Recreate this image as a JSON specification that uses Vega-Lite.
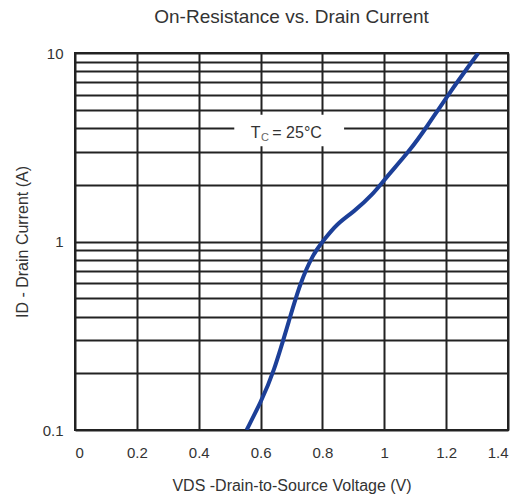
{
  "$schema": "https://vega.github.io/schema/vega-lite/v6.json",
  "width": 433,
  "height": 377,
  "autosize": "none",
  "padding": {"left": 75, "top": 53, "right": 15, "bottom": 66},
  "background": "white",
  "config": {
    "font": "Liberation Sans",
    "view": {"stroke": "#222", "strokeWidth": 2},
    "axis": {
      "domain": false,
      "ticks": false,
      "grid": true,
      "gridColor": "#222",
      "gridWidth": 2,
      "gridOpacity": 1,
      "labelFont": "Liberation Sans",
      "labelFontSize": 15,
      "labelColor": "#333",
      "titleFont": "Liberation Sans",
      "titleFontSize": 16,
      "titleFontWeight": "normal",
      "titleColor": "#333"
    }
  },
  "title": {
    "text": "On-Resistance vs. Drain Current",
    "font": "Liberation Sans",
    "fontSize": 19,
    "fontWeight": "normal",
    "color": "#333",
    "offset": 19
  },
  "layer": [
    {
      "data": {"values": [
        {"vds": 0.555, "id": 0.1},
        {"vds": 0.6, "id": 0.14},
        {"vds": 0.641, "id": 0.198},
        {"vds": 0.695, "id": 0.395},
        {"vds": 0.727, "id": 0.596},
        {"vds": 0.77, "id": 0.86},
        {"vds": 0.803, "id": 1.01},
        {"vds": 0.846, "id": 1.24},
        {"vds": 0.9, "id": 1.43},
        {"vds": 0.965, "id": 1.79},
        {"vds": 1.002, "id": 2.15},
        {"vds": 1.083, "id": 3.04},
        {"vds": 1.137, "id": 4.04},
        {"vds": 1.205, "id": 5.97},
        {"vds": 1.304, "id": 10}
      ]},
      "mark": {"type": "line", "color": "#1c3f98", "strokeWidth": 4, "interpolate": "basis", "clip": true},
      "encoding": {
        "x": {
          "field": "vds", "type": "quantitative",
          "scale": {"domain": [0, 1.4], "nice": false, "zero": false},
          "axis": {
            "values": [0, 0.2, 0.4, 0.6, 0.8, 1, 1.2, 1.4],
            "format": "~g",
            "labelPadding": 15,
            "title": "VDS -Drain-to-Source Voltage (V)",
            "titlePadding": 17
          }
        },
        "y": {
          "field": "id", "type": "quantitative",
          "scale": {"type": "log", "domain": [0.1, 10], "nice": false},
          "axis": {
            "values": [0.1, 0.2, 0.3, 0.4, 0.5, 0.6, 0.7, 0.8, 0.9, 1, 2, 3, 4, 5, 6, 7, 8, 9, 10],
            "labelExpr": "datum.value == 0.1 ? '0.1' : datum.value == 1 ? '1' : datum.value == 10 ? '10' : ''",
            "labelPadding": 12,
            "title": "ID - Drain Current (A)",
            "titlePadding": 12
          }
        }
      }
    },
    {
      "data": {"values": [{"x1": 0.515, "x2": 0.87, "y1": 3.2, "y2": 4.7}]},
      "mark": {"type": "rect", "fill": "white"},
      "encoding": {
        "x": {"field": "x1", "type": "quantitative"},
        "x2": {"field": "x2"},
        "y": {"field": "y1", "type": "quantitative"},
        "y2": {"field": "y2"}
      }
    },
    {
      "data": {"values": [{"x": 0.6, "y": 3.75, "label": "T"}]},
      "mark": {"type": "text", "align": "right", "baseline": "middle", "fontSize": 16, "color": "#333", "font": "Liberation Sans"},
      "encoding": {
        "x": {"field": "x", "type": "quantitative"},
        "y": {"field": "y", "type": "quantitative"},
        "text": {"field": "label"}
      }
    },
    {
      "data": {"values": [{"x": 0.601, "y": 3.75, "label": "C"}]},
      "mark": {"type": "text", "align": "left", "baseline": "middle", "fontSize": 11, "dy": 5, "color": "#666", "font": "Liberation Sans"},
      "encoding": {
        "x": {"field": "x", "type": "quantitative"},
        "y": {"field": "y", "type": "quantitative"},
        "text": {"field": "label"}
      }
    },
    {
      "data": {"values": [{"x": 0.638, "y": 3.75, "label": "= 25°C"}]},
      "mark": {"type": "text", "align": "left", "baseline": "middle", "fontSize": 16, "color": "#333", "font": "Liberation Sans"},
      "encoding": {
        "x": {"field": "x", "type": "quantitative"},
        "y": {"field": "y", "type": "quantitative"},
        "text": {"field": "label"}
      }
    }
  ]
}
